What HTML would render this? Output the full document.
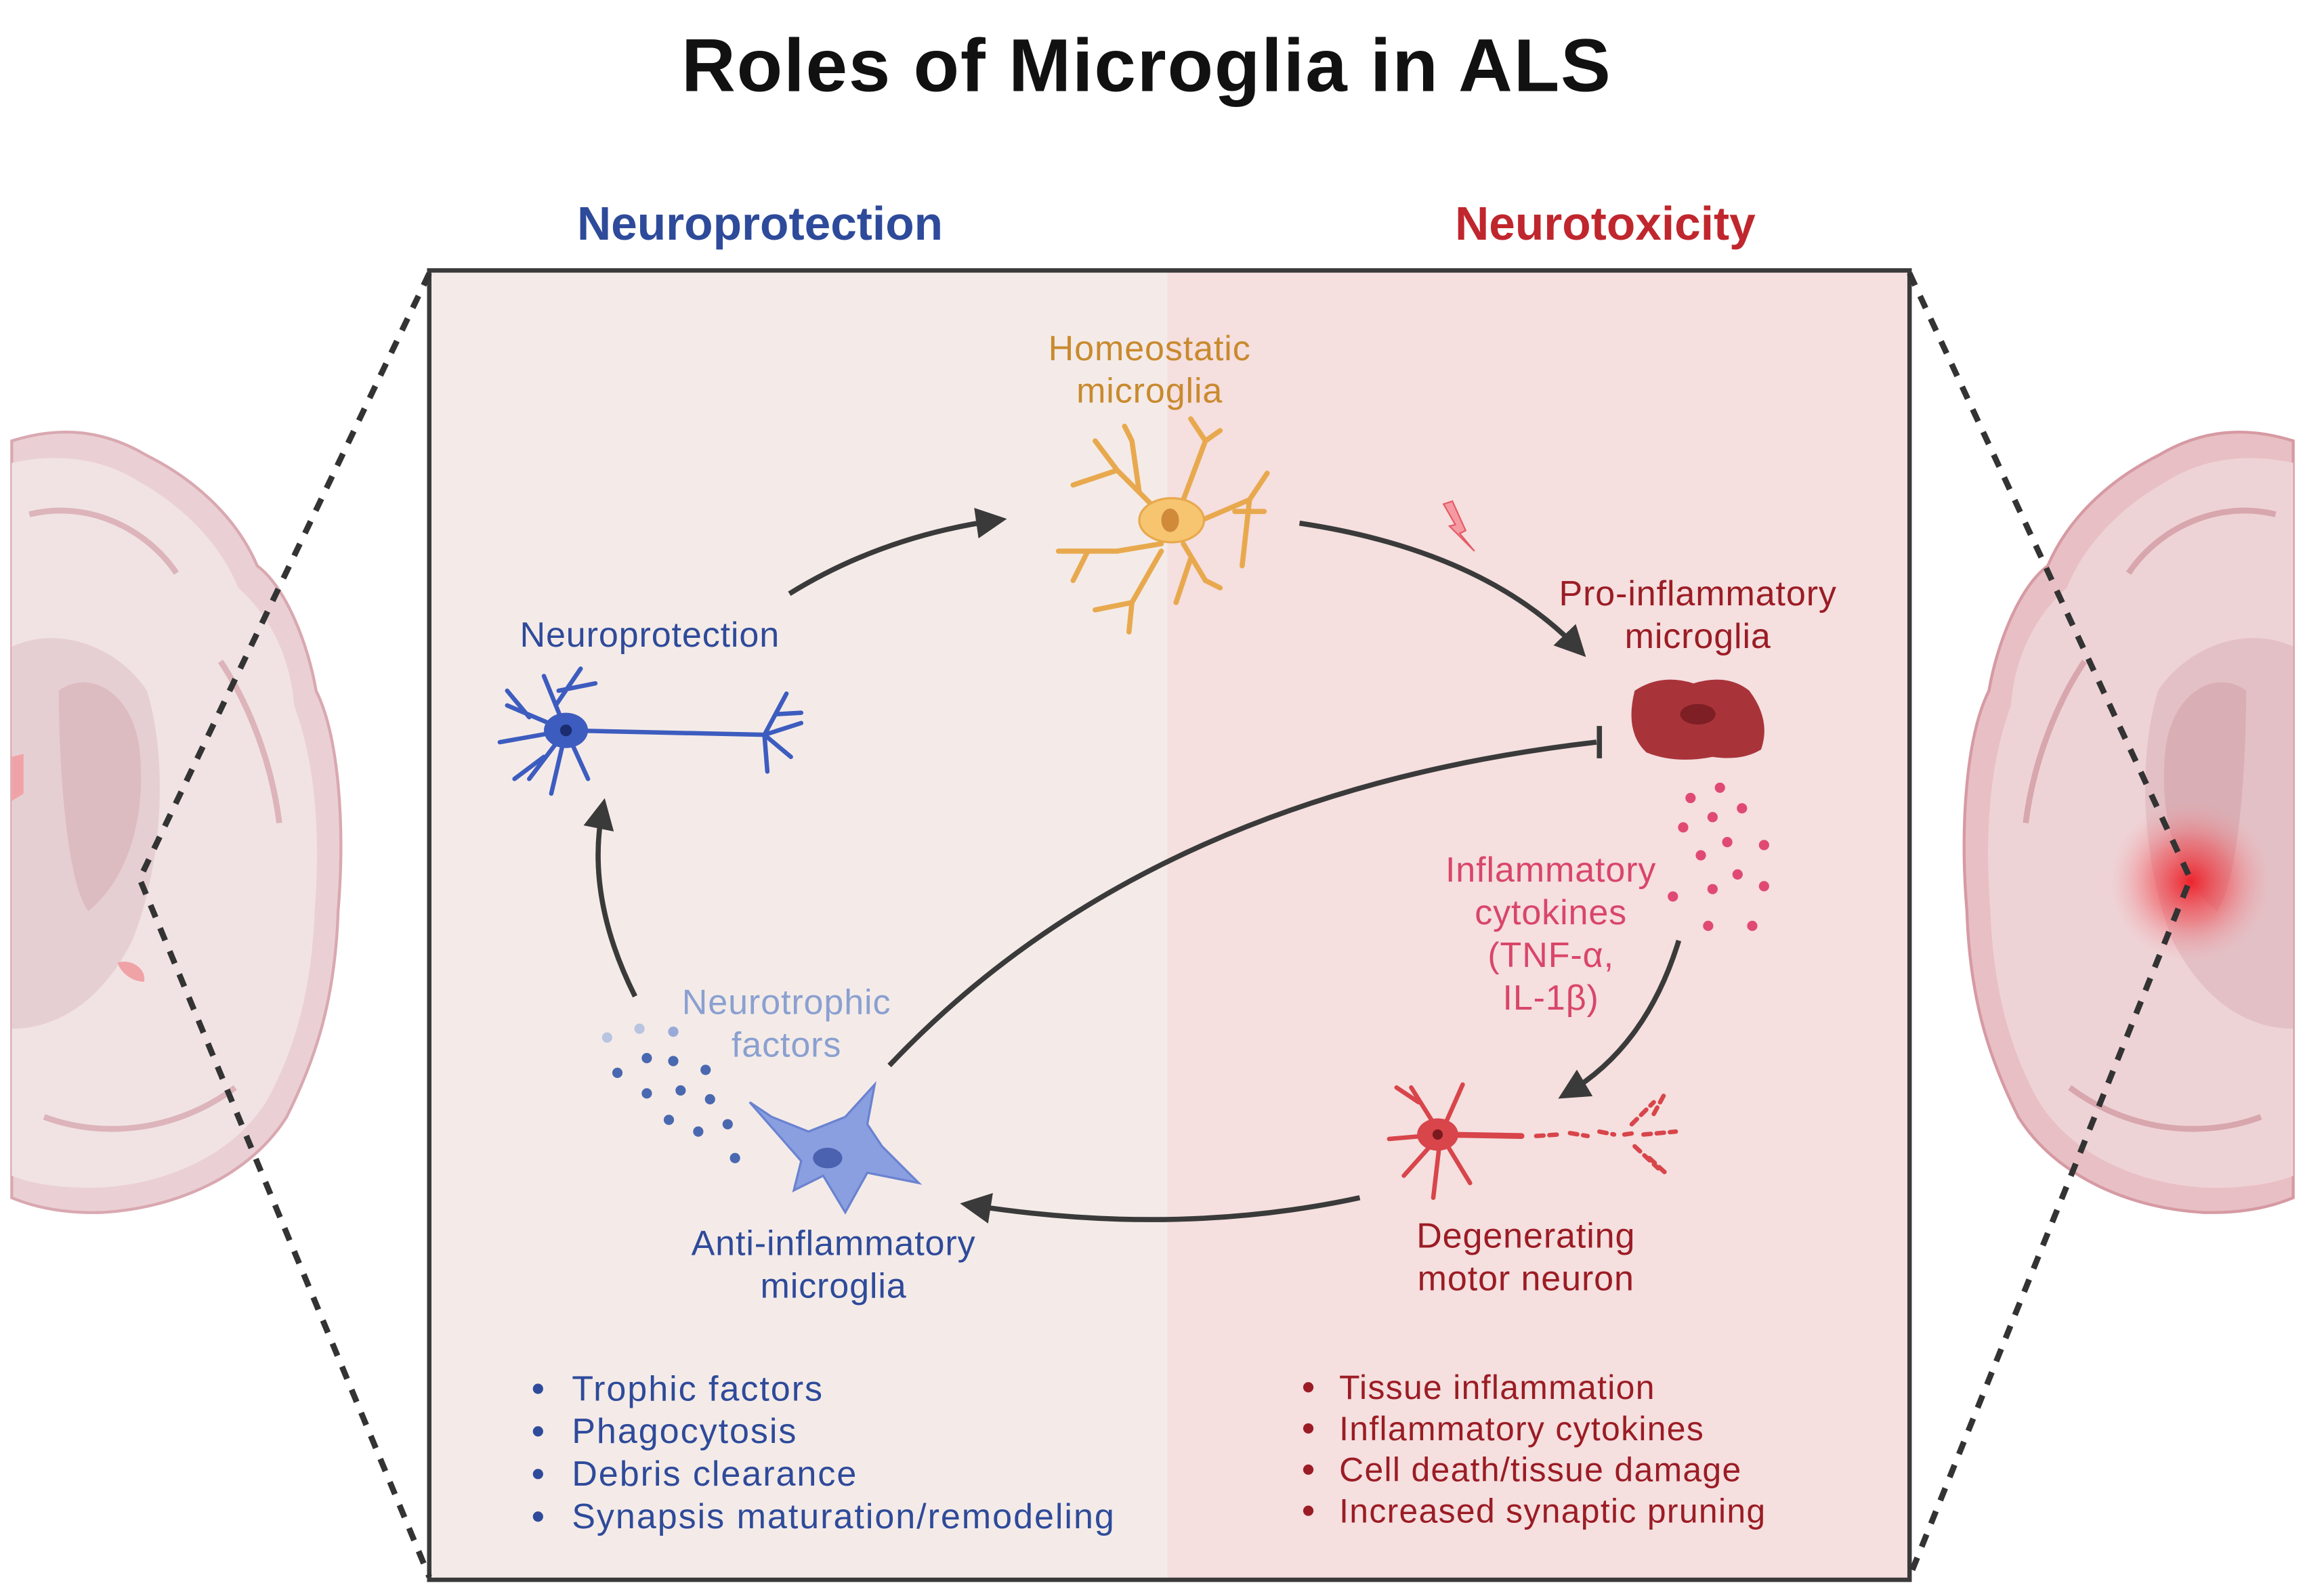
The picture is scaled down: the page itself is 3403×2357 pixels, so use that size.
<!DOCTYPE html>
<html><head><meta charset="utf-8"><style>
html,body{margin:0;padding:0;background:#fff;}
svg{display:block;}
text{font-family:"Liberation Sans",sans-serif;}
</style></head><body>
<svg width="3403" height="2357" viewBox="0 0 1568 1086" xmlns="http://www.w3.org/2000/svg">
<defs>
<marker id="ah" markerWidth="6" markerHeight="6" refX="4" refY="3" orient="auto" markerUnits="strokeWidth">
<path d="M0,0 L6,3 L0,6 Z" fill="#3a3a3a"/></marker>
<radialGradient id="glow" cx="0.5" cy="0.5" r="0.5">
<stop offset="0" stop-color="#ee1c25" stop-opacity="0.95"/>
<stop offset="0.5" stop-color="#f04a50" stop-opacity="0.5"/>
<stop offset="1" stop-color="#f2a0a5" stop-opacity="0"/></radialGradient>
</defs>
<rect width="1568" height="1086" fill="#fff"/>
<text x="780" y="62" font-size="51" font-weight="bold" text-anchor="middle" fill="#111" letter-spacing="0.8">Roles of Microglia in ALS</text>
<text x="517" y="163" font-size="32" font-weight="bold" text-anchor="middle" fill="#2e4a9a">Neuroprotection</text>
<text x="1092" y="163" font-size="32" font-weight="bold" text-anchor="middle" fill="#c0262d">Neurotoxicity</text>

<g>
<path d="M8,300 C40,290 70,292 100,310 C130,325 160,350 175,385 C195,400 210,440 215,470 C230,500 235,560 230,620 C228,680 215,720 195,760 C170,800 120,822 70,825 C40,826 20,820 8,815 Z" fill="#ead0d4" stroke="#d9a8b0" stroke-width="2"/>
<path d="M8,315 C40,308 70,312 95,328 C125,345 150,370 162,400 C185,420 198,450 200,480 C215,520 218,570 214,620 C212,675 200,715 182,748 C160,785 115,805 70,808 C40,809 20,805 8,800 Z" fill="#f1e3e4"/>
<path d="M8,440 C40,425 80,440 100,470 C115,520 110,590 90,640 C70,680 40,700 8,700 Z" fill="#e6cfd2"/>
<path d="M40,470 C60,455 90,470 95,510 C100,560 85,600 60,620 C45,600 40,520 40,470 Z" fill="#dcbcc1"/>
<path d="M20,350 C60,340 100,360 120,390 M30,760 C70,775 120,770 160,740 M150,450 C170,480 185,520 190,560" stroke="#dcb4ba" stroke-width="4" fill="none"/>
<path d="M8,515 L16,513 L16,540 L8,545 Z" fill="#f0a3a6"/>
<path d="M80,655 C90,652 100,660 98,668 C90,668 82,662 80,655 Z" fill="#f0a3a6"/>
</g>
<g>
<path d="M1560,300 C1528,290 1498,292 1468,310 C1438,325 1408,350 1393,385 C1373,400 1358,440 1353,470 C1338,500 1333,560 1338,620 C1340,680 1353,720 1373,760 C1398,800 1448,822 1498,825 C1528,826 1548,820 1560,815 Z" fill="#e8bfc4" stroke="#d69aa3" stroke-width="2"/>
<path d="M1560,315 C1528,308 1498,312 1473,328 C1443,345 1418,370 1406,400 C1383,420 1370,450 1368,480 C1353,520 1350,570 1354,620 C1356,675 1368,715 1386,748 C1408,785 1453,805 1498,808 C1528,809 1548,805 1560,800 Z" fill="#eed3d6"/>
<path d="M1560,440 C1528,425 1488,440 1468,470 C1453,520 1458,590 1478,640 C1498,680 1528,700 1560,700 Z" fill="#e3c0c5"/>
<path d="M1528,470 C1508,455 1478,470 1473,510 C1468,560 1483,600 1508,620 C1523,600 1528,520 1528,470 Z" fill="#d9aeb4"/>
<path d="M1548,350 C1508,340 1468,360 1448,390 M1538,760 C1498,775 1448,770 1408,740 M1418,450 C1398,480 1383,520 1378,560" stroke="#d8a6ad" stroke-width="4" fill="none"/>
<circle cx="1490" cy="600" r="55" fill="url(#glow)"/>
</g>

<rect x="292" y="184" width="502" height="891" fill="#f4ebe8"/>
<rect x="794" y="184" width="505" height="891" fill="#f5dfdf"/>
<rect x="292" y="184" width="1007" height="891" fill="none" stroke="#3a3a3a" stroke-width="3"/>

<g stroke="#333" stroke-width="4" stroke-dasharray="9 8" fill="none">
<path d="M292,186 L95,598 L292,1073"/>
<path d="M1299,186 L1490,598 L1299,1073"/>
</g>

<g stroke="#3a3a3a" stroke-width="3.5" fill="none">
<path d="M537,404 Q600,365 678,354" marker-end="url(#ah)"/>
<path d="M884,356 Q1010,375 1074,442" marker-end="url(#ah)"/>
<path d="M1142,640 Q1120,712 1066,744" marker-end="url(#ah)"/>
<path d="M925,815 Q800,842 660,820" marker-end="url(#ah)"/>
<path d="M432,678 Q398,610 410,550" marker-end="url(#ah)"/>
<path d="M605,725 Q780,540 1086,505"/>
<path d="M1088,494 L1088,516"/>
</g>

<g stroke="#e8a94e" stroke-width="3.5" fill="none" stroke-linecap="round">
<path d="M795,355 L760,320 L745,300 M760,320 L730,330 M775,335 L770,300 L765,290 M805,340 L820,300 M820,300 L830,293 M820,300 L810,285"/>
<path d="M815,355 L850,340 L862,322 M850,340 L845,385 M840,348 L860,348"/>
<path d="M790,370 L760,375 L720,375 M740,375 L730,395 M790,375 L770,410 L745,415 M770,410 L768,430"/>
<path d="M805,370 L820,395 L830,400 M810,380 L800,410"/>
</g>
<ellipse cx="797" cy="354" rx="22" ry="15" fill="#f7c56f" stroke="#e8a94e" stroke-width="1.5"/>
<ellipse cx="796" cy="354" rx="6" ry="8" fill="#d08a3a"/>
<path d="M982,343 L990,357 L986,358 L1003,375 L993,363 L997,361 L988,341 Z" fill="#f59aa2" stroke="#e45a65" stroke-width="1"/>

<g stroke="#3d5cbf" stroke-width="3" fill="none" stroke-linecap="round">
<path d="M385,497 L520,500 M520,500 L535,472 M520,500 L545,492 M520,500 L538,515 M520,500 L522,525 M528,486 L545,485"/>
<path d="M385,497 L370,460 M378,480 L395,455 M385,497 L345,480 M360,488 L345,470 M385,497 L340,505 M385,497 L360,530 M370,515 L350,530 M385,497 L375,540 M385,497 L400,530 M380,470 L405,465"/>
</g>
<ellipse cx="385" cy="497" rx="15" ry="12" fill="#3d5cbf"/>
<circle cx="385" cy="497" r="4" fill="#1b2c70"/>

<path d="M1112,470 Q1130,458 1152,465 Q1175,458 1190,470 Q1205,490 1198,510 Q1185,518 1165,515 Q1140,520 1120,512 Q1105,498 1112,470 Z" fill="#a8343a"/>
<ellipse cx="1155" cy="486" rx="12" ry="7" fill="#7e1e25"/>

<g fill="#e04a72">
<circle cx="1170" cy="536" r="3.5"/><circle cx="1150" cy="543" r="3.5"/><circle cx="1185" cy="550" r="3.5"/>
<circle cx="1165" cy="556" r="3.5"/><circle cx="1145" cy="563" r="3.5"/><circle cx="1175" cy="573" r="3.5"/>
<circle cx="1200" cy="575" r="3.5"/><circle cx="1157" cy="582" r="3.5"/><circle cx="1182" cy="595" r="3.5"/>
<circle cx="1200" cy="603" r="3.5"/><circle cx="1138" cy="610" r="3.5"/><circle cx="1165" cy="605" r="3.5"/>
<circle cx="1162" cy="630" r="3.5"/><circle cx="1192" cy="630" r="3.5"/>
</g>

<g stroke="#d8454a" stroke-width="3" fill="none" stroke-linecap="round">
<path d="M980,772 L960,740 M965,750 L950,740 M980,772 L995,738 M980,772 L945,775 M980,772 L955,800 M980,772 L975,815 M980,772 L1000,805"/>
<path d="M980,772 L1035,773" stroke-width="4"/>
<path d="M1045,773 L1060,772 M1068,771 L1080,773 M1088,770 L1098,772 M1105,772 L1112,771 M1110,765 L1125,750 M1112,780 L1128,795 M1118,772 L1140,770 M1125,758 L1132,745 M1122,788 L1135,800" stroke-dasharray="5 4"/>
</g>
<ellipse cx="978" cy="772" rx="14" ry="11" fill="#d8454a"/>
<circle cx="978" cy="772" r="3.5" fill="#7a1a1f"/>

<path d="M525,760 L550,770 L575,760 L595,738 L590,765 L600,780 L625,805 L590,798 L575,825 L560,800 L540,810 L545,790 L510,750 Z" fill="#8a9fe0" stroke="#6a82d0" stroke-width="1.5"/>
<ellipse cx="563" cy="788" rx="10" ry="7" fill="#4a62b0"/>

<g fill="#4a68b0">
<circle cx="413" cy="706" r="3.5" fill="#b8c4e0"/><circle cx="435" cy="700" r="3.5" fill="#b8c4e0"/><circle cx="458" cy="702" r="3.5" fill="#9aaad8"/>
<circle cx="420" cy="730" r="3.5"/><circle cx="440" cy="720" r="3.5"/><circle cx="458" cy="722" r="3.5"/>
<circle cx="480" cy="728" r="3.5"/><circle cx="440" cy="744" r="3.5"/><circle cx="463" cy="742" r="3.5"/>
<circle cx="483" cy="748" r="3.5"/><circle cx="455" cy="762" r="3.5"/><circle cx="475" cy="770" r="3.5"/>
<circle cx="495" cy="765" r="3.5"/><circle cx="500" cy="788" r="3.5"/>
</g>

<g font-size="24" text-anchor="middle" letter-spacing="0.4">
<text x="782" y="245" fill="#c98a2e">Homeostatic</text>
<text x="782" y="274" fill="#c98a2e">microglia</text>
<text x="442" y="440" fill="#2e4a9a">Neuroprotection</text>
<text x="1155" y="412" fill="#9b1c24">Pro-inflammatory</text>
<text x="1155" y="441" fill="#9b1c24">microglia</text>
<text x="1055" y="600" fill="#d9466a">Inflammatory</text>
<text x="1055" y="629" fill="#d9466a">cytokines</text>
<text x="1055" y="658" fill="#d9466a">(TNF-α,</text>
<text x="1055" y="687" fill="#d9466a">IL-1β)</text>
<text x="535" y="690" fill="#8aa0d0">Neurotrophic</text>
<text x="535" y="719" fill="#8aa0d0">factors</text>
<text x="567" y="854" fill="#2e4a9a">Anti-inflammatory</text>
<text x="567" y="883" fill="#2e4a9a">microglia</text>
<text x="1038" y="849" fill="#9b1c24">Degenerating</text>
<text x="1038" y="878" fill="#9b1c24">motor neuron</text>
</g>
<g font-size="24" fill="#2e4a9a" letter-spacing="0.9">
<circle cx="366" cy="945" r="3.5" fill="#2e4a9a"/><text x="389" y="953">Trophic factors</text>
<circle cx="366" cy="974" r="3.5" fill="#2e4a9a"/><text x="389" y="982">Phagocytosis</text>
<circle cx="366" cy="1003" r="3.5" fill="#2e4a9a"/><text x="389" y="1011">Debris clearance</text>
<circle cx="366" cy="1032" r="3.5" fill="#2e4a9a"/><text x="389" y="1040">Synapsis maturation/remodeling</text>
</g>
<g font-size="23" fill="#9b1c24" letter-spacing="0.6">
<circle cx="890" cy="944" r="3.5" fill="#9b1c24"/><text x="911" y="952">Tissue inflammation</text>
<circle cx="890" cy="972" r="3.5" fill="#9b1c24"/><text x="911" y="980">Inflammatory cytokines</text>
<circle cx="890" cy="1000" r="3.5" fill="#9b1c24"/><text x="911" y="1008">Cell death/tissue damage</text>
<circle cx="890" cy="1028" r="3.5" fill="#9b1c24"/><text x="911" y="1036">Increased synaptic pruning</text>
</g>
</svg>
</body></html>
